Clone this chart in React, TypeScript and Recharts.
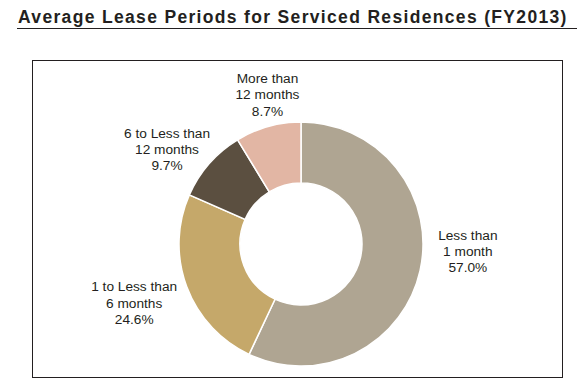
import { PieChart, Pie, Cell } from "recharts";

const categories = [
  "Less than 1 month",
  "1 to Less than 6 months",
  "6 to Less than 12 months",
  "More than 12 months",
];
const categoryLines = [
  ["Less than", "1 month"],
  ["1 to Less than", "6 months"],
  ["6 to Less than", "12 months"],
  ["More than", "12 months"],
];
const shares = [57.0, 24.6, 9.7, 8.7];
const colors = ["#afa592", "#c5a86a", "#5b4f40", "#e2b6a4"];

// label distance from centre and angle nudge (deg) per slice
const labelPlace = [
  { dist: 167, shift: 10 },
  { dist: 177, shift: -1 },
  { dist: 164, shift: 6 },
  { dist: 153, shift: -3 },
];

const data = categories.map((name, i) => ({ name, value: shares[i] }));

const RADIAN = Math.PI / 180;
const textColor = "#231f20";

const renderLabel = (props: any) => {
  const { cx, cy, midAngle, index, value } = props;
  const place = labelPlace[index];
  const angle = (midAngle + place.shift) * RADIAN;
  const x = cx + place.dist * Math.cos(angle);
  const y = cy - place.dist * Math.sin(angle);
  const lines = [...categoryLines[index], `${Number(value).toFixed(1)}%`];
  return (
    <text
      x={x}
      y={y}
      textAnchor="middle"
      fill={textColor}
      fontSize={13.7}
      fontFamily="'Liberation Sans', Arial, sans-serif"
    >
      {lines.map((line, i) => (
        <tspan key={i} x={x} y={y + (i - 1) * 16.3} dominantBaseline="central">
          {line}
        </tspan>
      ))}
    </text>
  );
};

const App = () => {
  return (
    <div
      style={{
        position: "absolute",
        left: 0,
        top: 0,
        width: 586,
        height: 388,
        background: "#fff",
        fontFamily: "'Liberation Sans', Arial, sans-serif",
      }}
    >
      <div
        style={{
          position: "absolute",
          left: 18,
          top: 7,
          fontSize: 17.5,
          lineHeight: "20px",
          fontWeight: "bold",
          letterSpacing: 1.33,
          color: textColor,
          whiteSpace: "nowrap",
        }}
      >
        Average Lease Periods for Serviced Residences (FY2013)
      </div>
      <div
        style={{
          position: "absolute",
          left: 16.5,
          top: 27.5,
          width: 560,
          height: 1.5,
          background: textColor,
        }}
      />
      <div
        style={{
          position: "absolute",
          left: 31.5,
          top: 60,
          width: 531,
          height: 318,
          border: `1.5px solid ${textColor}`,
          boxSizing: "border-box",
        }}
      />
      <div style={{ position: "absolute", left: 0, top: 0 }}>
        <PieChart
          width={586}
          height={388}
          margin={{ top: 0, right: 0, bottom: 0, left: 0 }}
        >
          <Pie
            data={data}
            dataKey="value"
            nameKey="name"
            cx={301}
            cy={244}
            innerRadius={61}
            outerRadius={122}
            startAngle={90}
            endAngle={-270}
            stroke="#ffffff"
            strokeWidth={1.5}
            labelLine={false}
            label={renderLabel}
            isAnimationActive={false}
          >
            {data.map((entry, i) => (
              <Cell key={entry.name} fill={colors[i]} />
            ))}
          </Pie>
        </PieChart>
      </div>
    </div>
  );
};

export default App;
